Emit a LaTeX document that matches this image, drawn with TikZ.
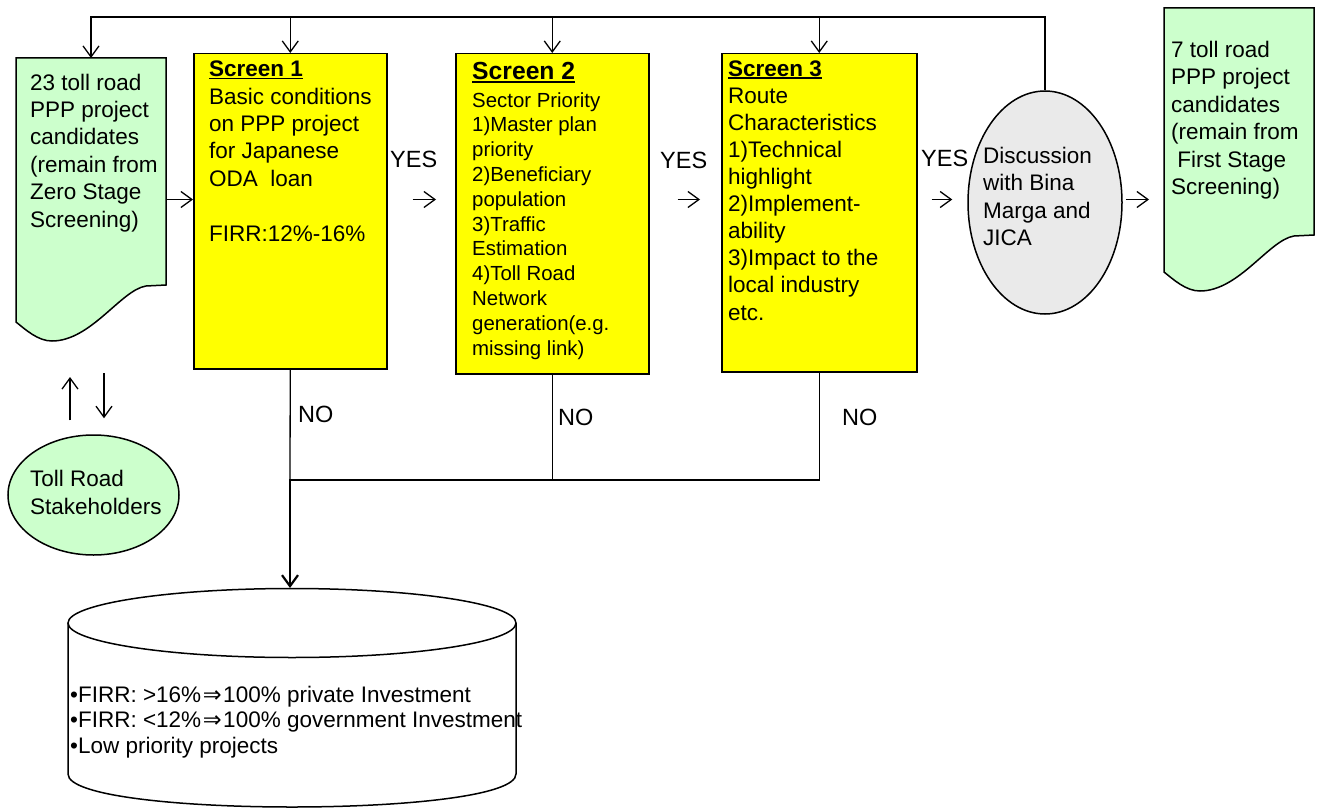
\documentclass[tikz,border=0pt]{standalone}
\usepackage{fontspec}
\setmainfont{Liberation Sans}
\newfontfamily\arrowfont{DejaVu Sans}
\usetikzlibrary{arrows.meta,shapes.geometric,calc}
\definecolor{docgreen}{HTML}{CCFFCC}
\definecolor{scryellow}{HTML}{FFFF00}
\definecolor{discgray}{HTML}{EAEAEA}
% bold title with a heavy underline
\newcommand\scrtitle[1]{\setbox0\hbox{\bfseries #1}\rlap{\rule[-2.6pt]{\wd0}{1.7pt}}\box0}
% implication arrow taken from DejaVu Sans
\newcommand\impl{\makebox[22pt]{\arrowfont ⇒}}
\begin{document}
\begin{tikzpicture}[x=1pt,y=-1pt,
  ln/.style={line width=1.3pt,draw=black},
  thk/.style={line width=2.2pt,draw=black},
  arr/.style={-{Straight Barb[length=11pt,width=16pt]}},
  docshape/.style={draw=black,line width=1.5pt,fill=docgreen},
  screen/.style={rectangle,draw=black,line width=1.5pt,fill=scryellow,inner sep=0,anchor=north west},
  hold/.style={rectangle,inner sep=0,outer sep=0,anchor=north west},
  % multi-line texts are placed by the baseline of their last line
  txt/.style={anchor=base west,inner sep=0,align=left,font=\fontsize{22.5}{27.4}\selectfont},
  small/.style={anchor=base west,inner sep=0,align=left,font=\fontsize{20.4}{24.8}\selectfont},
  lbl/.style={anchor=base west,inner sep=0,font=\fontsize{23.5}{28}\selectfont}]
\useasboundingbox (0,0) rectangle (1317,808);
\fill[white] (0,0) rectangle (1317,808);

% ---- document shapes (project candidate lists)
\path[docshape,shift={(16,58)}] (0,0) -- (150,0) -- (150,227) -- (130,228)
  .. controls (105,232) and (75,283) .. (36,283)
  .. controls (22,283) and (10,272) .. (0,264) -- cycle;
\path[docshape,shift={(1164,8)}] (0,0) -- (150,0) -- (150,227) -- (130,228)
  .. controls (105,232) and (75,283) .. (36,283)
  .. controls (22,283) and (10,272) .. (0,264) -- cycle;
\node[hold,minimum width=150pt,minimum height=283pt] (docL) at (16,58) {};
\node[hold,minimum width=150pt,minimum height=283pt] (docR) at (1164,8) {};
\node[txt] (docLt) at (30,227) {23 toll road\\PPP project\\candidates\\(remain from\\Zero Stage\\Screening)};
\node[txt] (docRt) at (1171,194.5) {7 toll road\\PPP project\\candidates\\(remain from\\\ First Stage\\Screening)};

% ---- screening boxes
\node[screen,minimum width=193pt,minimum height=315pt] (s1) at (193,53) {};
\node[screen,minimum width=193pt,minimum height=320pt] (s2) at (455,53) {};
\node[screen,minimum width=195pt,minimum height=318pt] (s3) at (721,53) {};

\node[txt] (s1t) at (209,241) {\scrtitle{Screen 1}\\Basic conditions\\on PPP project\\for Japanese\\ODA\ \ loan\\\mbox{}\\FIRR:12\%-16\%};
\node[anchor=base west,inner sep=0,font=\fontsize{24.7}{28}\selectfont] (s2h) at (472,80) {\scrtitle{Screen 2}};
\node[small] (s2t) at (472,355) {Sector Priority\\1)Master plan\\priority\\2)Beneficiary\\population\\3)Traffic\\Estimation\\4)Toll Road\\Network\\generation(e.g.\\missing link)};
\node[txt,font=\fontsize{22.5}{27.1}\selectfont] (s3t) at (728,320) {\scrtitle{Screen 3}\\Route\\Characteristics\\1)Technical\\highlight\\2)Implement-\\ability\\3)Impact to the\\local industry\\etc.};

% ---- discussion and stakeholders
\node[ellipse,draw=black,line width=1.5pt,fill=discgray,minimum width=154pt,minimum height=223pt,inner sep=0] (disc) at (1045,202.5) {};
\node[txt] (disct) at (983,245.5) {Discussion\\with Bina\\Marga and\\JICA};
\node[ellipse,draw=black,line width=1.5pt,fill=docgreen,minimum width=171pt,minimum height=120pt,inner sep=0] (stk) at (93.5,495) {};
\node[txt,font=\fontsize{22.5}{28}\selectfont] (stkt) at (30,514) {Toll Road\\Stakeholders};

% ---- rejected projects store
\fill[white] (68,623) -- (68,774) .. controls (68,818) and (516,818) .. (516,774) -- (516,623) -- cycle;
\draw[line width=1.5pt] (68,623) -- (68,774) .. controls (68,818) and (516,818) .. (516,774) -- (516,623);
\draw[line width=1.5pt,fill=white] (292,623) ellipse (224pt and 34.5pt);
\node[hold,minimum width=448pt,minimum height=220pt] (cyl) at (68,588) {};
\node[anchor=base west,inner sep=0,align=left,font=\fontsize{22.5}{25.5}\selectfont] (cylt) at (70,753)
  {•FIRR: >16\%\impl100\% private Investment\\•FIRR: <12\%\impl100\% government Investment\\•Low priority projects};

% ---- labels
\node[lbl] (yes1) at (390,167) {YES};
\node[lbl] (yes2) at (660,168) {YES};
\node[lbl] (yes3) at (921,166) {YES};
\node[lbl] (no1) at (298,422) {NO};
\node[lbl] (no2) at (558,425) {NO};
\node[lbl] (no3) at (842,425) {NO};

% ---- feedback line along the top
\coordinate (top) at (0,17);
\coordinate (nj) at (290,480);
\draw[thk] (disc.north) -- (disc.north |- top) -- (s1.north |- top);
\draw[ln,arr] (s1.north |- top) -- (docL.north |- top) -- (docL.north);
\draw[ln,arr] (s1.north |- top) -- (s1.north);
\draw[ln,arr] (s2.north |- top) -- (s2.north);
\draw[ln,arr] (s3.north |- top) -- (s3.north);

% ---- forward flow
\draw[ln,arr] (docL.east) -- (docL.east -| s1.west);
\draw[ln,arr,shorten <=25pt,shorten >=19pt] (docL.east -| s1.east) -- (docL.east -| s2.west);
\draw[ln,arr,shorten <=28pt,shorten >=21pt] (docL.east -| s2.east) -- (docL.east -| s3.west);
\draw[ln,arr,shorten <=14pt,shorten >=15pt] (docL.east -| s3.east) -- (docL.east -| disc.west);
\draw[ln,arr,shorten <=3pt,shorten >=15pt] (docL.east -| disc.east) -- (docL.east -| docR.west);

% ---- exchange with stakeholders
\draw[ln,arr,shorten <=14pt,shorten >=36pt] ([xshift=-23.5pt]stk.north) -- ([xshift=-21pt]docL.south);
\draw[ln,arr,shorten <=32pt,shorten >=16pt] ([xshift=13pt]docL.south) -- ([xshift=10.5pt]stk.north);

% ---- rejection paths
\draw[ln] (s3.south) -- (s3.south |- nj) -- (s2.south |- nj);
\draw[ln] (s2.south) -- (s2.south |- nj);
\draw[ln] (s1.south) -- (nj);
\draw[thk,arr] (s2.south |- nj) -- (nj) -- (nj |- cyl.north);
\end{tikzpicture}
\end{document}
